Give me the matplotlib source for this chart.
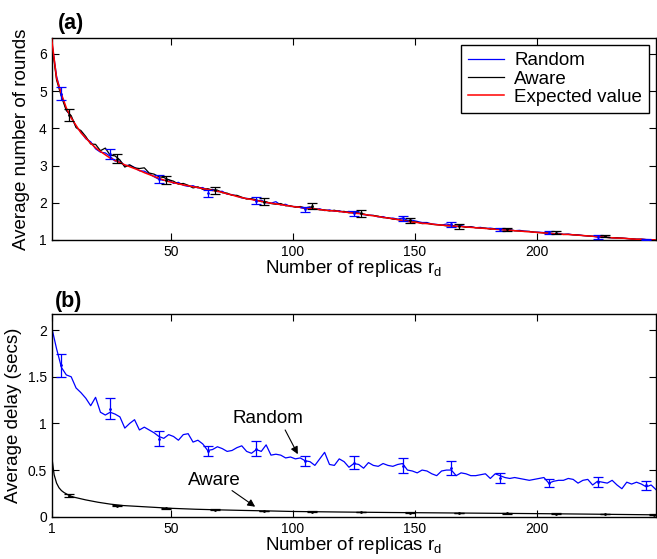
import numpy as np
import matplotlib
matplotlib.use("Agg")
import matplotlib.pyplot as plt

plt.rcParams['font.family'] = ['Liberation Sans', 'DejaVu Sans']
plt.rcParams['mathtext.fontset'] = 'custom'
plt.rcParams['mathtext.rm'] = 'Liberation Sans'
plt.rcParams['mathtext.it'] = 'Liberation Sans:italic'

# ---------------- data ----------------
replicas = np.arange(1, 250, 2)

expected_rounds = [
    6.40, 5.35, 4.92, 4.55, 4.28, 4.08, 3.88, 3.74, 3.60, 3.48,
    3.38, 3.29, 3.20, 3.14, 3.08, 3.02, 2.97, 2.92, 2.87, 2.81,
    2.76, 2.71, 2.66, 2.61, 2.57, 2.54, 2.51, 2.48, 2.46, 2.43,
    2.41, 2.38, 2.36, 2.33, 2.31, 2.28, 2.24, 2.21, 2.17, 2.14,
    2.11, 2.09, 2.06, 2.04, 2.01, 1.99, 1.97, 1.95, 1.93, 1.91,
    1.89, 1.88, 1.86, 1.85, 1.83, 1.82, 1.80, 1.79, 1.78, 1.77,
    1.75, 1.74, 1.72, 1.71, 1.69, 1.67, 1.65, 1.63, 1.61, 1.59,
    1.57, 1.55, 1.52, 1.50, 1.48, 1.47, 1.45, 1.44, 1.43, 1.41,
    1.40, 1.39, 1.38, 1.37, 1.36, 1.35, 1.34, 1.33, 1.32, 1.31,
    1.30, 1.29, 1.28, 1.27, 1.26, 1.25, 1.24, 1.23, 1.22, 1.21,
    1.20, 1.19, 1.18, 1.17, 1.16, 1.15, 1.15, 1.14, 1.13, 1.12,
    1.11, 1.10, 1.09, 1.08, 1.07, 1.06, 1.05, 1.05, 1.04, 1.03,
    1.02, 1.02, 1.01, 1.005, 1.00]

random_rounds = [
    6.35, 5.40, 4.90, 4.50, 4.30, 4.05, 3.90, 3.72, 3.64, 3.45,
    3.36, 3.34, 3.25, 3.12, 3.12, 3.00, 3.01, 2.95, 2.86, 2.85,
    2.78, 2.70, 2.63, 2.60, 2.62, 2.52, 2.55, 2.47, 2.44, 2.46,
    2.40, 2.41, 2.33, 2.36, 2.30, 2.31, 2.23, 2.22, 2.18, 2.13,
    2.12, 2.10, 2.05, 2.07, 2.00, 1.99, 2.03, 1.94, 1.96, 1.90,
    1.90, 1.87, 1.84, 1.87, 1.82, 1.84, 1.79, 1.81, 1.77, 1.79,
    1.74, 1.77, 1.72, 1.73, 1.68, 1.67, 1.66, 1.62, 1.63, 1.58,
    1.59, 1.56, 1.59, 1.53, 1.53, 1.50, 1.47, 1.47, 1.43, 1.42,
    1.40, 1.43, 1.40, 1.37, 1.39, 1.35, 1.36, 1.33, 1.34, 1.31,
    1.32, 1.30, 1.29, 1.28, 1.28, 1.25, 1.26, 1.24, 1.23, 1.21,
    1.21, 1.20, 1.18, 1.17, 1.18, 1.15, 1.16, 1.14, 1.14, 1.12,
    1.11, 1.10, 1.08, 1.08, 1.07, 1.06, 1.05, 1.05, 1.04, 1.03,
    1.02, 1.02, 1.01, 1.01, 1.00]

aware_rounds = [
    6.30, 5.30, 4.85, 4.48, 4.34, 4.02, 3.94, 3.78, 3.58, 3.57,
    3.40, 3.47, 3.28, 3.26, 3.15, 2.96, 3.02, 2.94, 2.92, 2.94,
    2.80, 2.77, 2.70, 2.68, 2.62, 2.58, 2.50, 2.52, 2.47, 2.40,
    2.43, 2.36, 2.38, 2.34, 2.34, 2.27, 2.26, 2.20, 2.20, 2.15,
    2.10, 2.11, 2.08, 2.03, 2.03, 1.98, 1.96, 1.98, 1.92, 1.92,
    1.88, 1.90, 1.86, 1.89, 1.84, 1.81, 1.81, 1.78, 1.80, 1.76,
    1.77, 1.73, 1.74, 1.72, 1.70, 1.66, 1.66, 1.64, 1.60, 1.60,
    1.56, 1.55, 1.53, 1.51, 1.49, 1.48, 1.44, 1.45, 1.42, 1.41,
    1.40, 1.38, 1.38, 1.36, 1.37, 1.34, 1.35, 1.33, 1.32, 1.32,
    1.29, 1.30, 1.28, 1.27, 1.27, 1.25, 1.24, 1.23, 1.23, 1.21,
    1.20, 1.19, 1.19, 1.17, 1.16, 1.15, 1.15, 1.14, 1.13, 1.12,
    1.11, 1.10, 1.09, 1.08, 1.07, 1.06, 1.06, 1.05, 1.04, 1.03,
    1.02, 1.02, 1.01, 1.01, 1.00]

random_err_x = [5, 25, 45, 65, 85, 105, 125, 145, 165, 185, 205, 225, 245]
random_err_lo = [4.76, 3.17, 2.54, 2.16, 1.97, 1.76, 1.645, 1.52, 1.36, 1.25, 1.15, 1.04, 0.99]
random_err_hi = [5.10, 3.44, 2.75, 2.34, 2.15, 1.90, 1.78, 1.645, 1.49, 1.33, 1.24, 1.13, 1.03]
aware_err_x = [8, 28, 48, 68, 88, 108, 128, 148, 168, 188, 208, 228]
aware_err_lo = [4.21, 3.06, 2.51, 2.24, 1.93, 1.83, 1.63, 1.47, 1.30, 1.24, 1.16, 1.07]
aware_err_hi = [4.52, 3.31, 2.73, 2.43, 2.13, 1.99, 1.80, 1.58, 1.43, 1.33, 1.23, 1.14]

random_delay = [
    2.03, 1.80, 1.60, 1.52, 1.50, 1.38, 1.33, 1.27, 1.19, 1.28,
    1.12, 1.09, 1.12, 1.10, 1.07, 0.95, 1.00, 1.04, 0.93, 0.96,
    0.93, 0.90, 0.86, 0.84, 0.88, 0.86, 0.82, 0.88, 0.89, 0.80,
    0.82, 0.78, 0.71, 0.72, 0.75, 0.73, 0.70, 0.71, 0.74, 0.76,
    0.70, 0.68, 0.72, 0.70, 0.77, 0.66, 0.67, 0.66, 0.63, 0.64,
    0.62, 0.63, 0.60, 0.59, 0.55, 0.62, 0.69, 0.56, 0.55, 0.62,
    0.59, 0.53, 0.57, 0.56, 0.52, 0.58, 0.55, 0.54, 0.57, 0.55,
    0.54, 0.56, 0.57, 0.50, 0.49, 0.47, 0.50, 0.49, 0.46, 0.44,
    0.49, 0.50, 0.50, 0.44, 0.47, 0.46, 0.44, 0.44, 0.45, 0.46,
    0.41, 0.46, 0.44, 0.42, 0.41, 0.42, 0.41, 0.40, 0.39, 0.40,
    0.41, 0.42, 0.36, 0.38, 0.39, 0.39, 0.41, 0.40, 0.36, 0.39,
    0.40, 0.34, 0.38, 0.37, 0.36, 0.39, 0.34, 0.30, 0.37, 0.35,
    0.37, 0.35, 0.32, 0.34, 0.29]

aware_delay_x = [1, 2, 3, 4, 5, 6, 8, 10, 15, 20, 25, 30, 40, 50, 60, 70,
                 80, 90, 100, 120, 140, 160, 180, 200, 220, 249]
aware_delay = [0.65, 0.45, 0.36, 0.31, 0.28, 0.26, 0.23, 0.21, 0.18, 0.155,
               0.135, 0.12, 0.105, 0.09, 0.08, 0.073, 0.067, 0.062, 0.056,
               0.050, 0.045, 0.041, 0.037, 0.033, 0.028, 0.020]

rdelay_err_x = [5, 25, 45, 65, 85, 105, 125, 145, 165, 185, 205, 225, 245]
rdelay_err_lo = [1.50, 1.044, 0.758, 0.65, 0.65, 0.543, 0.508, 0.465, 0.447, 0.358, 0.315, 0.315, 0.286]
rdelay_err_hi = [1.744, 1.27, 0.918, 0.761, 0.81, 0.654, 0.65, 0.626, 0.60, 0.472, 0.40, 0.422, 0.386]
adelay_err_x = [8, 28, 48, 68, 88, 108, 128, 148, 168, 188, 208, 228, 248]
adelay_err_lo = [0.21, 0.11, 0.085, 0.068, 0.058, 0.050, 0.046, 0.040, 0.036, 0.032, 0.029, 0.026, 0.018]
adelay_err_hi = [0.24, 0.125, 0.095, 0.078, 0.066, 0.058, 0.052, 0.046, 0.042, 0.038, 0.035, 0.031, 0.024]

xticks_top = [50, 100, 150, 200]
xticks_bottom = [1, 50, 100, 150, 200]
yticks_top = [1, 2, 3, 4, 5, 6]
yticks_bottom = [0, 0.5, 1, 1.5, 2]
ytick_labels_bottom = ['0', '0.5', '1', '1.5', '2']

# ---------------- figure ----------------
W, H = 657, 559
fig = plt.figure(figsize=(W / 100, H / 100), dpi=100)

def px_axes(l, t, r, b):
    return fig.add_axes([l / W, 1 - b / H, (r - l) / W, (b - t) / H])

ax1 = px_axes(51.7, 38.3, 656, 240)
ax2 = px_axes(51.7, 314.3, 656, 516.7)

LW = 0.9
TICKFS = 10
LABFS = 13.5

def err(ax, x, lo, hi, color, lw=LW):
    lo = np.array(lo); hi = np.array(hi)
    mid = (lo + hi) / 2
    ax.errorbar(x, mid, yerr=(hi - lo) / 2, fmt='.', color=color, ms=2.0,
                elinewidth=lw, capsize=3.6, capthick=lw, zorder=4)

# top panel
ax1.plot(replicas, random_rounds, color='#0000ff', lw=LW, label='Random', zorder=2)
ax1.plot(replicas, aware_rounds, color='black', lw=LW, label='Aware', zorder=2)
ax1.plot(replicas, expected_rounds, color='#ff0000', lw=1.1, label='Expected value', zorder=3)
err(ax1, random_err_x, random_err_lo, random_err_hi, '#0000ff')
err(ax1, aware_err_x, aware_err_lo, aware_err_hi, 'black')
ax1.set_xlim(1, 249)
ax1.set_ylim(1, 6.42)
ax1.set_xticks(xticks_top)
ax1.set_yticks(yticks_top)
leg = ax1.legend(loc='upper right', fontsize=LABFS, frameon=True, fancybox=False,
                 edgecolor='black', framealpha=1, borderpad=0.4, labelspacing=0.05,
                 handlelength=1.9, handletextpad=0.55, borderaxespad=0.35)
leg.get_frame().set_linewidth(1.0)

# bottom panel
ax2.plot(replicas, random_delay, color='#0000ff', lw=LW, zorder=2)
ax2.plot(aware_delay_x, aware_delay, color='black', lw=LW, zorder=2)
err(ax2, rdelay_err_x, rdelay_err_lo, rdelay_err_hi, '#0000ff')
err(ax2, adelay_err_x, adelay_err_lo, adelay_err_hi, 'black')
ax2.set_xlim(1, 249)
ax2.set_ylim(0, 2.17)
ax2.set_xticks(xticks_bottom)
ax2.set_yticks(yticks_bottom)
ax2.set_yticklabels(ytick_labels_bottom)

arrow = dict(arrowstyle='-|>', color='black', lw=0.8, mutation_scale=11,
             shrinkA=0, shrinkB=0)
ax2.text(89.8, 1.05, 'Random', fontsize=LABFS, ha='center', va='center')
ax2.annotate('', xy=(102, 0.67), xytext=(96.8, 0.93), arrowprops=arrow)
ax2.text(67.9, 0.39, 'Aware', fontsize=LABFS, ha='center', va='center')
ax2.annotate('', xy=(84.5, 0.107), xytext=(75, 0.28), arrowprops=arrow)

for ax in (ax1, ax2):
    ax.tick_params(direction='in', length=5, width=0.8, labelsize=TICKFS,
                   top=True, right=True, pad=3.5)
    for s in ax.spines.values():
        s.set_linewidth(1.0)
    ax.set_xlabel('Number of replicas r$_\\mathrm{d}$', fontsize=LABFS)
    ax.xaxis.set_label_coords(0.5, -0.09)

ax1.set_ylabel('Average number of rounds', fontsize=LABFS)
ax1.yaxis.set_label_coords(-0.036, 0.5)
ax2.set_ylabel('Average delay (secs)', fontsize=LABFS)
ax2.yaxis.set_label_coords(-0.049, 0.5)

fig.text(58 / W, 1 - 23 / H, '(a)', fontsize=15.5, fontweight='bold', va='center', ha='left')
fig.text(55 / W, 1 - 302 / H, '(b)', fontsize=15.5, fontweight='bold', va='center', ha='left')

fig.savefig('out.png', dpi=100)
